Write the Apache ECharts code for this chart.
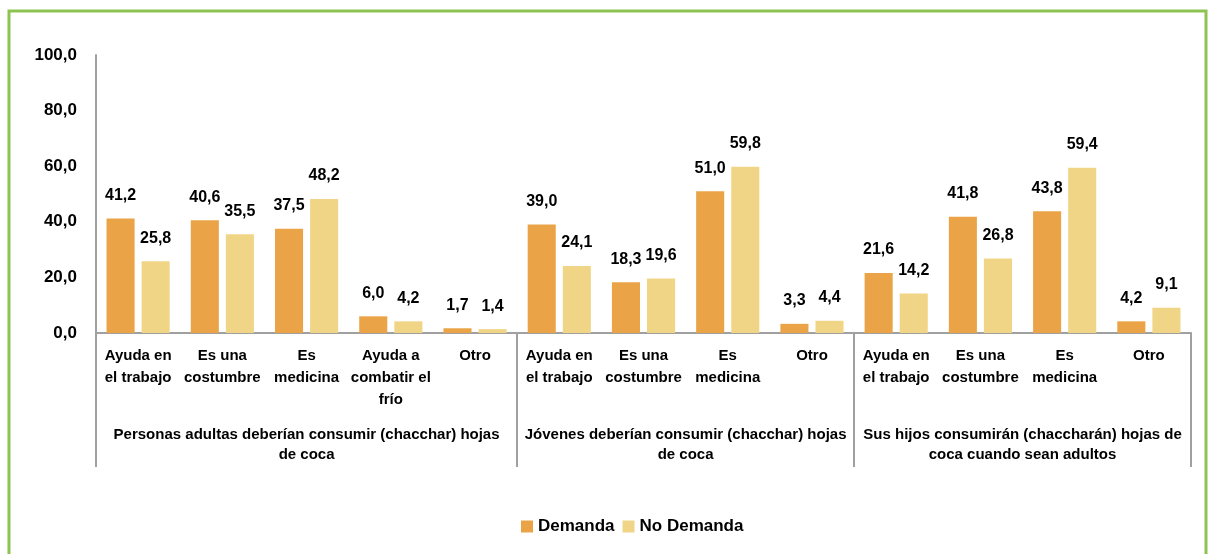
<!DOCTYPE html>
<html lang="es">
<head>
<meta charset="utf-8" />
<title>Chacchar</title>
<script src="https://cdn.jsdelivr.net/npm/echarts@6/dist/echarts.min.js"></script>
<style>
  html, body { margin: 0; padding: 0; background: #fff; }
  #main { width: 1209px; height: 554px; }
</style>
</head>
<body>
<div id="main"></div>
<script>
// categorias (nivel 1) y grupos (nivel 2)
var categorias = [
  'Ayuda en\nel trabajo', 'Es una\ncostumbre', 'Es\nmedicina', 'Ayuda a\ncombatir el\nfrío', 'Otro',
  'Ayuda en\nel trabajo', 'Es una\ncostumbre', 'Es\nmedicina', 'Otro',
  'Ayuda en\nel trabajo', 'Es una\ncostumbre', 'Es\nmedicina', 'Otro'
];
var grupos = [
  'Personas adultas deberían consumir (chacchar) hojas\nde coca',
  'Jóvenes deberían consumir (chacchar) hojas\nde coca',
  'Sus hijos consumirán (chaccharán) hojas de\ncoca cuando sean adultos'
];
var tamGrupos = [5, 4, 4];
var demanda   = [41.2, 40.6, 37.5, 6.0, 1.7, 39.0, 18.3, 51.0, 3.3, 21.6, 41.8, 43.8, 4.2];
var noDemanda = [25.8, 35.5, 48.2, 4.2, 1.4, 24.1, 19.6, 59.8, 4.4, 14.2, 26.8, 59.4, 9.1];
var ticksY = [0, 20, 40, 60, 80, 100];

var FONT = '"Liberation Sans", Arial, sans-serif';
var coma = function (v) { return Number(v).toFixed(1).replace('.', ','); };

var myChart = echarts.init(document.getElementById('main'));

var etiqueta = {
  show: true, position: 'top', distance: 15,
  color: '#000', fontWeight: 'bold', fontSize: 16, fontFamily: FONT,
  formatter: function (p) { return coma(p.value); }
};

var option = {
  animation: false,
  backgroundColor: '#fff',
  grid: { left: 96, right: 18, top: 55, bottom: 221, containLabel: false },
  legend: {
    top: 513, left: 516,
    itemWidth: 12, itemHeight: 12, itemGap: 8,
    icon: 'rect',
    textStyle: { color: '#000', fontWeight: 'bold', fontSize: 17, fontFamily: FONT },
    data: ['Demanda', 'No Demanda']
  },
  xAxis: {
    type: 'category',
    data: categorias,
    axisLine: { lineStyle: { color: '#a0a0a0', width: 2 } },
    axisTick: { show: false },
    axisLabel: {
      interval: 0, margin: 12, color: '#000', fontWeight: 'bold',
      fontSize: 15, lineHeight: 22, fontFamily: FONT
    }
  },
  yAxis: {
    type: 'value', min: ticksY[0], max: ticksY[ticksY.length - 1], interval: 20,
    axisLine: { show: true, lineStyle: { color: '#a0a0a0', width: 2 } },
    axisTick: { show: false },
    splitLine: { show: false },
    axisLabel: {
      margin: 19, color: '#000', fontWeight: 'bold', fontSize: 17, fontFamily: FONT,
      formatter: function (v) { return coma(v); }
    }
  },
  series: [
    { name: 'Demanda', type: 'bar', data: demanda, barGap: '25%', barCategoryGap: '25%',
      itemStyle: { color: '#EAA447' }, label: etiqueta },
    { name: 'No Demanda', type: 'bar', data: noDemanda,
      itemStyle: { color: '#F1D587' }, label: etiqueta }
  ]
};
myChart.setOption(option);

// separadores y etiquetas de grupo, calculados con la escala del eje
var x0 = myChart.convertToPixel({ xAxisIndex: 0 }, 0);
var x1 = myChart.convertToPixel({ xAxisIndex: 0 }, 1);
var paso = x1 - x0;
var yCero = myChart.convertToPixel({ yAxisIndex: 0 }, 0);
var graficos = [{
  type: 'rect', silent: true,
  shape: { x: 9, y: 11, width: 1197, height: 600 },
  style: { fill: 'none', stroke: '#8DC351', lineWidth: 3 }
}];
var inicio = 0;
var bordes = [0];
tamGrupos.forEach(function (n, g) {
  var izq = x0 - paso / 2 + inicio * paso;
  var der = izq + n * paso;
  graficos.push({
    type: 'text', silent: true,
    style: {
      text: grupos[g], x: (izq + der) / 2, y: yCero + 92, align: 'center', verticalAlign: 'top',
      fill: '#000', font: 'bold 15px ' + FONT, lineHeight: 20
    }
  });
  inicio += n;
  bordes.push(inicio);
});
bordes.forEach(function (b) {
  var bx = Math.round(x0 - paso / 2 + b * paso);
  graficos.push({
    type: 'line', silent: true,
    shape: { x1: bx, y1: yCero, x2: bx, y2: yCero + 134 },
    style: { stroke: '#a0a0a0', lineWidth: 2 }
  });
});
myChart.setOption({ graphic: graficos });
</script>
</body>
</html>
